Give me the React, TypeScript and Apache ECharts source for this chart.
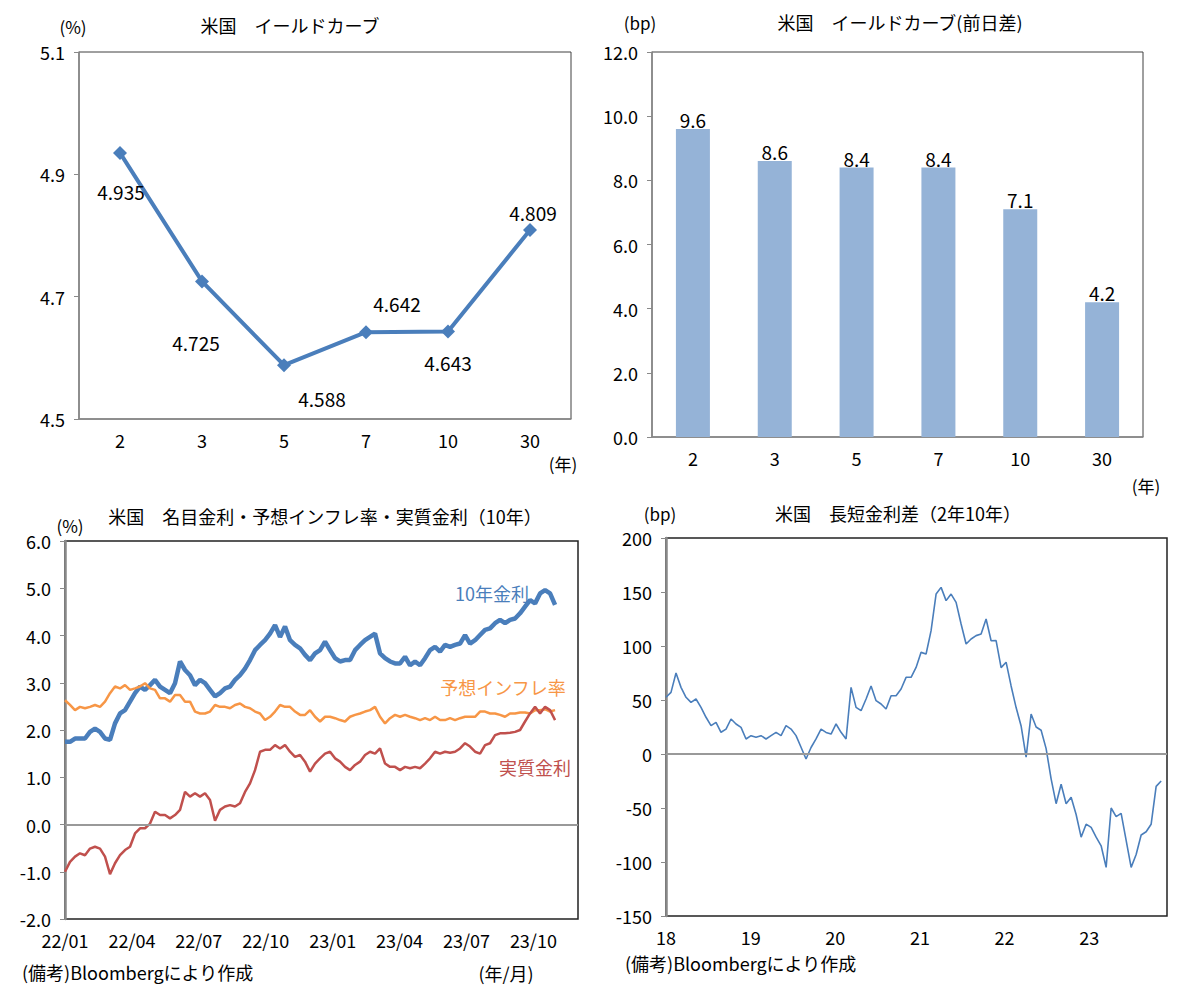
import React, { useEffect, useRef } from "react";
import * as echarts from "echarts";

// ---------------- data ----------------
const tenors = ["2", "3", "5", "7", "10", "30"];
const curveYield = [4.935, 4.725, 4.588, 4.642, 4.643, 4.809];
const curveDailyChange = [9.6, 8.6, 8.4, 8.4, 7.1, 4.2];

const monthTickLabels = ["22/01", "22/04", "22/07", "22/10", "23/01", "23/04", "23/07", "23/10"];
const yearTickLabels = ["18", "19", "20", "21", "22", "23"];

// sampling interval of the time series
const BL_STEP_MONTHS = 0.2242; // months from 2022/01
const BR_STEP_YEARS = 0.0591; // years from 2018/01

const nominal10y = [
  1.75, 1.75, 1.82, 1.82, 1.82, 1.96, 2.03, 1.96, 1.82, 1.79, 2.14, 2.35, 2.42, 2.6, 2.78, 2.92, 2.85,
  2.95, 3.06, 2.92, 2.85, 2.78, 2.99, 3.45, 3.27, 3.16, 2.95, 3.06, 2.99, 2.85, 2.71, 2.78, 2.88, 2.92,
  3.06, 3.16, 3.3, 3.48, 3.69, 3.8, 3.9, 4.04, 4.22, 3.97, 4.19, 3.9, 3.8, 3.73, 3.59, 3.48, 3.62,
  3.69, 3.87, 3.69, 3.52, 3.45, 3.48, 3.48, 3.69, 3.8, 3.9, 3.97, 4.04, 3.62, 3.52, 3.45, 3.41,
  3.41, 3.55, 3.37, 3.45, 3.37, 3.52, 3.69, 3.76, 3.66, 3.8, 3.76, 3.8, 3.83, 4.01, 3.83, 3.9,
  4.01, 4.12, 4.15, 4.26, 4.33, 4.26, 4.33, 4.36, 4.47, 4.61, 4.75, 4.68, 4.89, 4.96, 4.89, 4.65,
];
const breakeven10y = [
  2.63, 2.53, 2.42, 2.49, 2.46, 2.49, 2.53, 2.49, 2.6, 2.78, 2.92, 2.88, 2.95, 2.85, 2.88, 2.92, 2.99,
  2.88, 2.85, 2.67, 2.67, 2.6, 2.74, 2.74, 2.6, 2.6, 2.39, 2.35, 2.35, 2.39, 2.53, 2.49, 2.49, 2.46,
  2.53, 2.56, 2.49, 2.46, 2.39, 2.35, 2.21, 2.28, 2.39, 2.53, 2.49, 2.49, 2.39, 2.32, 2.32, 2.42, 2.28,
  2.18, 2.28, 2.28, 2.25, 2.21, 2.18, 2.28, 2.32, 2.35, 2.39, 2.42, 2.49, 2.28, 2.14, 2.25, 2.32,
  2.28, 2.32, 2.28, 2.25, 2.21, 2.25, 2.21, 2.28, 2.21, 2.21, 2.25, 2.21, 2.25, 2.28, 2.28, 2.28,
  2.39, 2.39, 2.35, 2.35, 2.32, 2.28, 2.35, 2.35, 2.37, 2.37, 2.35, 2.42, 2.42, 2.44, 2.39, 2.42,
];
const real10y = [
  -1.0, -0.79, -0.68, -0.61, -0.65, -0.51, -0.47, -0.51, -0.68, -1.05, -0.82, -0.65, -0.54, -0.47, -0.19,
  -0.08, -0.08, 0.02, 0.27, 0.2, 0.2, 0.13, 0.2, 0.31, 0.69, 0.59, 0.66, 0.59, 0.66, 0.52, 0.08, 0.31,
  0.38, 0.41,
  0.38, 0.45, 0.69, 0.87, 1.15, 1.54, 1.58, 1.58, 1.68, 1.61, 1.68, 1.54, 1.43, 1.47, 1.33, 1.12, 1.29,
  1.4, 1.5, 1.54, 1.4, 1.33, 1.22, 1.15, 1.26, 1.33, 1.47, 1.54, 1.5, 1.61, 1.29, 1.22, 1.22,
  1.15, 1.22, 1.19, 1.22, 1.19, 1.29, 1.4, 1.54, 1.5, 1.54, 1.52, 1.54, 1.61, 1.72, 1.65, 1.54,
  1.5, 1.68, 1.72, 1.89, 1.93, 1.93, 1.94, 1.96, 2.0, 2.18, 2.35, 2.49, 2.35, 2.49, 2.42, 2.21,
];
const spread2y10y = [
  52.5, 57.1, 75, 61.7, 52.5, 47.8, 50.9, 43.2, 34.0, 26.2, 29.3, 20.1, 23.1, 32.4, 27.8, 24.7, 13.9,
  17.0, 15.4, 17.0, 13.9, 17.0, 20.1, 17.0, 26.2, 23.1, 17.0, 6.2, -4.6, 6, 14, 23, 20,
  18.5, 27.8, 20.1, 13.9, 61.7, 43.2, 40.1, 50.9, 63, 49.4, 46.3, 41.7, 54.0, 54.0, 60.2, 71.0, 71.0,
  80.2, 94.1, 92.6, 114.2, 148.1, 154.3, 142.0, 148.1, 140.4, 120.4, 101.8, 106.5, 109.6, 111.1, 125.0, 104.9,
  105, 80, 85, 63, 43, 26, -3, 37, 25, 22, 5, -23, -46, -28, -46, -40, -56, -77, -65, -68,
  -77, -85, -105, -50, -58, -55, -80, -105, -93, -75, -72, -65, -30, -25,
];

// ---------------- styling ----------------
const FONT = "'Noto Sans CJK JP', 'Noto Sans', sans-serif";
const BLUE = "#4A7EBB";
const ORANGE = "#F79646";
const RED = "#C0504D";
const BAR = "#95B3D7";
const AXIS_GRAY = "#898989";

function txt(x: number, y: number, text: string, opt: any = {}) {
  return {
    type: "text",
    x,
    y,
    silent: true,
    style: {
      text,
      fill: opt.color || "#000",
      fontSize: opt.size || 18,
      fontFamily: FONT,
      align: opt.align || "center",
      verticalAlign: "middle",
    },
  };
}

function yAxisBase(grid: number, min: number, max: number, interval: number, fmt: (v: number) => string, width = 1.5) {
  return {
    type: "value",
    gridIndex: grid,
    min,
    max,
    interval,
    axisLine: { show: true, lineStyle: { color: AXIS_GRAY, width } },
    axisTick: { show: true, length: 5, lineStyle: { color: AXIS_GRAY, width: 1 } },
    splitLine: { show: false },
    axisLabel: { color: "#000", fontSize: 18, fontFamily: FONT, margin: 14, formatter: fmt },
  };
}

export default function App() {
  const ref = useRef<HTMLDivElement>(null);

  useEffect(() => {
    if (!ref.current) return;
    const chart = echarts.init(ref.current, null, { renderer: "svg" });
    const tlOffsets = [[1, 39], [-6, 61], [38, 33], [31, -29], [0, 31], [3, -17]];

    const option: any = {
      animation: false,
      textStyle: { fontFamily: FONT },
      grid: [
        { left: 79, top: 52, width: 492, height: 367, show: true, borderColor: "#404040", borderWidth: 1, backgroundColor: "transparent", outerBoundsMode: "none" },
        { left: 652, top: 52, width: 491, height: 385, show: true, borderColor: "#404040", borderWidth: 1, backgroundColor: "transparent", outerBoundsMode: "none" },
        { left: 65, top: 541, width: 513, height: 378, show: true, borderColor: "#222", borderWidth: 1.5, backgroundColor: "transparent", outerBoundsMode: "none" },
        { left: 666, top: 538, width: 501, height: 378, show: true, borderColor: "#222", borderWidth: 1.5, backgroundColor: "transparent", outerBoundsMode: "none" },
      ],
      xAxis: [
        {
          type: "category", gridIndex: 0, data: tenors, boundaryGap: true,
          axisLine: { show: true, lineStyle: { color: AXIS_GRAY, width: 1.5 } },
          axisTick: { show: false },
          axisLabel: { color: "#000", fontSize: 18, fontFamily: FONT, margin: 12 },
        },
        {
          type: "category", gridIndex: 1, data: tenors, boundaryGap: true,
          axisLine: { show: true, lineStyle: { color: AXIS_GRAY, width: 1.5 } },
          axisTick: { show: false },
          axisLabel: { color: "#000", fontSize: 18, fontFamily: FONT, margin: 12 },
        },
        {
          type: "value", gridIndex: 2, min: 0, max: 23, interval: 3,
          axisLine: { show: false }, axisTick: { show: false }, splitLine: { show: false },
          axisLabel: {
            color: "#000", fontSize: 18, fontFamily: FONT, margin: 12,
            formatter: (v: number) => (Math.abs(v % 3) < 1e-6 && v / 3 < monthTickLabels.length ? monthTickLabels[Math.round(v / 3)] : ""),
          },
        },
        {
          type: "value", gridIndex: 3, min: 0, max: 5.92, interval: 1,
          axisLine: { show: false }, axisTick: { show: false }, splitLine: { show: false },
          axisLabel: {
            color: "#000", fontSize: 18, fontFamily: FONT, margin: 12,
            formatter: (v: number) => (Math.abs(v - Math.round(v)) < 1e-6 && Math.round(v) < yearTickLabels.length ? yearTickLabels[Math.round(v)] : ""),
          },
        },
      ],
      yAxis: [
        yAxisBase(0, 4.5, 5.1, 0.2, (v) => v.toFixed(1)),
        yAxisBase(1, 0, 12, 2, (v) => v.toFixed(1)),
        yAxisBase(2, -2, 6, 1, (v) => v.toFixed(1), 2.5),
        yAxisBase(3, -150, 200, 50, (v) => String(Math.round(v)), 2.5),
      ],
      series: [
        {
          type: "line", xAxisIndex: 0, yAxisIndex: 0,
          data: curveYield.map((v, i) => ({ value: v, label: { offset: tlOffsets[i] } })),
          symbol: "diamond", symbolSize: 14,
          itemStyle: { color: BLUE },
          lineStyle: { color: BLUE, width: 4 },
          label: {
            show: true, position: "inside", color: "#000", fontSize: 19, fontFamily: FONT,
            formatter: (p: any) => Number(p.value).toFixed(3),
          },
        },
        {
          type: "bar", xAxisIndex: 1, yAxisIndex: 1, data: curveDailyChange, barWidth: 34,
          itemStyle: { color: BAR },
          label: {
            show: true, position: "top", distance: 0, color: "#000", fontSize: 19, fontFamily: FONT,
            formatter: (p: any) => Number(p.value).toFixed(1),
          },
        },
        {
          type: "line", xAxisIndex: 2, yAxisIndex: 2, showSymbol: false,
          data: nominal10y.map((v, i) => [i * BL_STEP_MONTHS, v]),
          lineStyle: { color: BLUE, width: 4.5 }, itemStyle: { color: BLUE },
          markLine: {
            silent: true, symbol: "none", label: { show: false },
            lineStyle: { color: "#999", width: 2, type: "solid" },
            data: [{ yAxis: 0 }],
          },
        },
        {
          type: "line", xAxisIndex: 2, yAxisIndex: 2, showSymbol: false,
          data: breakeven10y.map((v, i) => [i * BL_STEP_MONTHS, v]),
          lineStyle: { color: ORANGE, width: 2.5 }, itemStyle: { color: ORANGE },
        },
        {
          type: "line", xAxisIndex: 2, yAxisIndex: 2, showSymbol: false,
          data: real10y.map((v, i) => [i * BL_STEP_MONTHS, v]),
          lineStyle: { color: RED, width: 2.5 }, itemStyle: { color: RED },
        },
        {
          type: "line", xAxisIndex: 3, yAxisIndex: 3, showSymbol: false,
          data: spread2y10y.map((v, i) => [i * BR_STEP_YEARS, v]),
          lineStyle: { color: BLUE, width: 1.6 }, itemStyle: { color: BLUE },
          markLine: {
            silent: true, symbol: "none", label: { show: false },
            lineStyle: { color: "#999", width: 2, type: "solid" },
            data: [{ yAxis: 0 }],
          },
        },
      ],
      graphic: [
        txt(290, 25, "米国　イールドカーブ"),
        txt(73, 26, "(%)", { size: 17 }),
        txt(563, 463, "(年)", { size: 17 }),
        txt(900, 22, "米国　イールドカーブ(前日差)"),
        txt(640, 22, "(bp)", { size: 17 }),
        txt(1146, 485, "(年)", { size: 17 }),
        txt(325, 516, "米国　名目金利・予想インフレ率・実質金利（10年）"),
        txt(70, 525, "(%)", { size: 17 }),
        txt(22, 972, "(備考)Bloombergにより作成", { align: "left" }),
        txt(506, 973, "(年/月)"),
        txt(492, 593, "10年金利", { color: BLUE }),
        txt(503, 687, "予想インフレ率", { color: ORANGE }),
        txt(535, 767, "実質金利", { color: RED }),
        txt(660, 513, "(bp)", { size: 17 }),
        txt(898, 513, "米国　長短金利差（2年10年）"),
        txt(625, 963, "(備考)Bloombergにより作成", { align: "left" }),
      ],
    };

    chart.setOption(option);
    return () => chart.dispose();
  }, []);

  return (
    <div
      ref={ref}
      style={{ position: "absolute", left: 0, top: 0, width: 1184, height: 987, background: "#fff" }}
    />
  );
}
